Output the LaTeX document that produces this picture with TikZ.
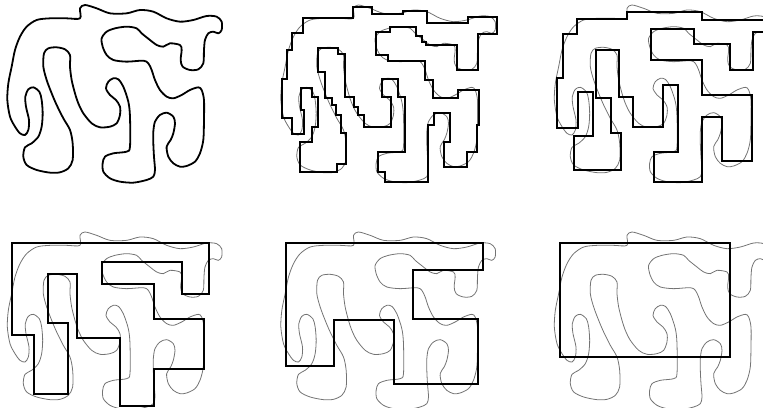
\documentclass[tikz,border=0pt]{standalone}
\usepackage{tikz}
\definecolor{ink}{RGB}{0,0,0}
\definecolor{ghost}{RGB}{115,115,115}
\tikzset{
  blobline/.style={draw=ink,line width=1.8pt,line join=round},
  ghostline/.style={draw=ghost,line width=0.8pt},
  rectiline/.style={draw=ink,line width=1.8pt,line join=miter},
}
% the free-form outline, traced on a 3x grid
\newcommand{\drawblob}[2]{%
  \begin{scope}[shift={#2},x=0.3333pt,y=-0.3333pt]
  \draw[#1] plot[smooth cycle,tension=0.5] coordinates {
    (110,60) (80,80) (60,110) (45,150) (35,200) (25,250) (22,300) (30,350)
    (45,380) (60,400) (75,405) (85,390) (87,360) (78,320) (76,290) (85,268)
    (100,262) (118,275) (125,300) (128,340) (125,380) (115,410) (95,430)
    (75,442) (70,470) (80,495) (110,510) (150,518) (180,517) (205,505)
    (218,480) (218,430) (210,390) (190,355) (170,315) (155,280) (140,240)
    (130,200) (132,160) (145,145) (170,142) (195,148) (210,165) (210,200)
    (215,240) (225,280) (235,310) (250,340) (275,370) (300,382) (330,380)
    (350,370) (360,345) (360,320) (348,300) (330,285) (318,265) (325,245)
    (340,235) (355,238) (370,260) (385,305) (390,350) (390,440) (380,455)
    (340,460) (315,470) (308,490) (310,515) (330,535) (360,545) (400,548)
    (440,540) (460,530) (465,510) (462,470) (460,430) (460,395) (465,365)
    (480,345) (500,338) (520,350) (525,370) (520,400) (512,420) (500,440)
    (505,470) (520,490) (540,500) (560,498) (585,485) (600,460) (610,420)
    (612,360) (612,300) (605,270) (595,262) (570,270) (545,285) (520,295)
    (500,290) (480,270) (465,240) (455,210) (445,190) (430,182) (380,185)
    (340,180) (320,165) (308,140) (305,115) (320,95) (345,85) (380,80)
    (410,85) (425,100) (450,120) (470,135) (490,140) (510,130) (540,135)
    (545,150) (542,180) (548,200) (570,210) (595,208) (610,190) (612,150)
    (615,120) (625,100) (640,95) (655,100) (665,90) (665,65) (650,50)
    (620,48) (580,60) (540,65) (500,55) (460,35) (420,30) (380,40)
    (330,40) (290,25) (255,15) (240,25) (240,55) (200,55) (150,55)};
  \end{scope}}

\begin{document}
\begin{tikzpicture}[x=1pt,y=-1pt]
\useasboundingbox (0,0) rectangle (763,407);

% --- top row ---
\drawblob{blobline}{(0,0)}

\drawblob{ghostline}{(273.5,0)}
\draw[rectiline] (302.7,18.3) -- (302.7,33.3) -- (291.7,33.3) -- (291.7,50)
  -- (287.3,50) -- (287.3,79) -- (282.3,79) -- (282.3,118.3) -- (291.7,118.3)
  -- (291.7,134.3) -- (304.3,134.3) -- (304.3,110) -- (301,110) -- (301,88.3)
  -- (311.7,88.3) -- (311.7,96.7) -- (317.7,96.7) -- (317.7,126.7)
  -- (311.7,126.7) -- (311.7,141.7) -- (300,141.7) -- (300,171.7)
  -- (336.7,171.7) -- (336.7,164.3) -- (346,164.3) -- (346,132.7)
  -- (341,132.7) -- (341,115) -- (336,115) -- (336,105) -- (331.7,105)
  -- (331.7,98.3) -- (325,98.3) -- (325,71.7) -- (318.3,71.7) -- (318.3,48.3)
  -- (338.3,48.3) -- (338.3,54) -- (345,54) -- (345,96.7) -- (354,96.7)
  -- (354,106.7) -- (358.3,106.7) -- (358.3,115) -- (364.3,115)
  -- (364.3,126.7) -- (391,126.7) -- (391,96.7) -- (381.7,96.7)
  -- (381.7,79.3) -- (398.3,79.3) -- (398.3,97.3) -- (405,97.3)
  -- (405,151.7) -- (377.7,151.7) -- (377.7,171.7) -- (385,171.7)
  -- (385,181.7) -- (427.7,181.7) -- (427.7,125) -- (434.3,125)
  -- (434.3,112.7) -- (450,112.7) -- (450,141.7) -- (444.3,141.7)
  -- (444.3,166.7) -- (466.7,166.7) -- (466.7,151.7) -- (476.7,151.7)
  -- (476.7,125) -- (479.3,125) -- (479.3,90) -- (457.7,90) -- (457.7,98.3)
  -- (433.3,98.3) -- (433.3,80) -- (425,80) -- (425,61) -- (387.7,61)
  -- (387.7,55) -- (376,55) -- (376,31.7) -- (390,31.7) -- (390,27.3)
  -- (415.7,27.3) -- (415.7,36) -- (421.7,36) -- (421.7,41.7)
  -- (425.7,41.7) -- (425.7,45) -- (456.7,45) -- (456.7,70) -- (478.3,70)
  -- (478.3,34) -- (497.3,34) -- (497.3,17.3) -- (468.3,17.3)
  -- (468.3,22.7) -- (427.3,22.7) -- (427.3,11) -- (403.3,11) -- (403.3,14)
  -- (371.7,14) -- (371.7,6.7) -- (353.3,6.7) -- (353.3,18.3) -- cycle;

\drawblob{ghostline}{(547,0)}
\draw[rectiline] (577.3,19) -- (627.3,19) -- (627.3,11.7) -- (701.7,11.7)
  -- (701.7,20) -- (775,20) -- (775,32.3) -- (752.7,32.3) -- (752.7,70)
  -- (730,70) -- (730,44.3) -- (694.3,44.3) -- (694.3,29.3) -- (650.7,29.3)
  -- (650.7,60) -- (702.3,60) -- (702.3,95) -- (752.3,95) -- (752.3,161)
  -- (721.7,161) -- (721.7,116.7) -- (701.7,116.7) -- (701.7,181.7)
  -- (654.3,181.7) -- (654.3,151.7) -- (678.3,151.7) -- (678.3,85)
  -- (663.3,85) -- (663.3,126.7) -- (632.7,126.7) -- (632.7,96.7)
  -- (619.3,96.7) -- (619.3,50) -- (595.7,50) -- (595.7,98.3) -- (611,98.3)
  -- (611,132.7) -- (620.7,132.7) -- (620.7,170) -- (574,170) -- (574,136)
  -- (592.7,136) -- (592.7,91.7) -- (578.3,91.7) -- (578.3,127.7)
  -- (556.7,127.7) -- (556.7,78.3) -- (563.3,78.3) -- (563.3,34.3)
  -- (577.3,34.3) -- cycle;

% --- bottom row ---
\drawblob{ghostline}{(0,227)}
\draw[rectiline] (11.7,242.7) -- (209.3,242.7) -- (209.3,294) -- (181.7,294)
  -- (181.7,261.7) -- (101.7,261.7) -- (101.7,284.3) -- (154.3,284.3)
  -- (154.3,319.3) -- (204,319.3) -- (204,369) -- (154,369) -- (154,405.7)
  -- (120,405.7) -- (120,338.3) -- (76.7,338.3) -- (76.7,274) -- (47.7,274)
  -- (47.7,323.3) -- (68.3,323.3) -- (68.3,394.3) -- (34,394.3) -- (34,335)
  -- (11.7,335) -- cycle;

\drawblob{ghostline}{(273.5,227)}
\draw[rectiline] (285.7,242.7) -- (483.3,242.7) -- (483.3,270) -- (412.7,270)
  -- (412.7,319.3) -- (478.3,319.3) -- (478.3,384) -- (394,384) -- (394,320)
  -- (334,320) -- (334,366) -- (285.7,366) -- cycle;

\drawblob{ghostline}{(547,227)}
\draw[rectiline] (560,242.7) rectangle (730,356.7);
\end{tikzpicture}
\end{document}
